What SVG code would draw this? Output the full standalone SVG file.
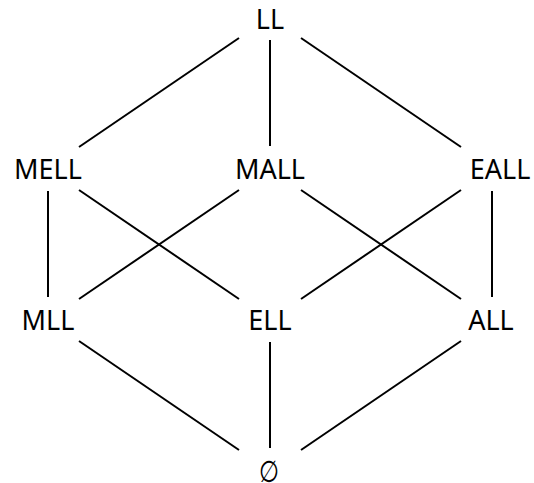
<svg xmlns="http://www.w3.org/2000/svg" width="534" height="483" viewBox="0 0 534 483">
<style>
text{font-family:"Noto Sans",sans-serif;font-size:27px;fill:#000;text-anchor:middle}
line{stroke:#000;stroke-width:2}
</style>
<rect width="534" height="483" fill="#fff"/>
<g id="edges">
<line x1="239" y1="38" x2="79" y2="147"/>
<line x1="270" y1="40" x2="270" y2="146"/>
<line x1="301" y1="38" x2="461" y2="147"/>
<line x1="48" y1="191" x2="48" y2="297"/>
<line x1="79" y1="190" x2="239" y2="299"/>
<line x1="239" y1="190" x2="79" y2="299"/>
<line x1="301" y1="190" x2="461" y2="299"/>
<line x1="461" y1="190" x2="301" y2="299"/>
<line x1="492" y1="191" x2="492" y2="297"/>
<line x1="79" y1="341" x2="239" y2="450"/>
<line x1="270" y1="342" x2="270" y2="448"/>
<line x1="461" y1="341" x2="301" y2="450"/>
</g>
<g id="LL"><text x="270" y="29">LL</text></g>
<g id="MELL"><text x="48" y="179">MELL</text></g>
<g id="MALL"><text x="270" y="179">MALL</text></g>
<g id="EALL"><text x="500" y="179">EALL</text></g>
<g id="MLL"><text x="48" y="330">MLL</text></g>
<g id="ELL"><text x="270" y="330">ELL</text></g>
<g id="ALL"><text x="491" y="330">ALL</text></g>
<g id="empty"><text transform="translate(269,482) scale(0.85,1.12)" x="0" y="0" style="font-family:'DejaVu Sans',sans-serif;font-style:italic">∅</text></g>
</svg>
